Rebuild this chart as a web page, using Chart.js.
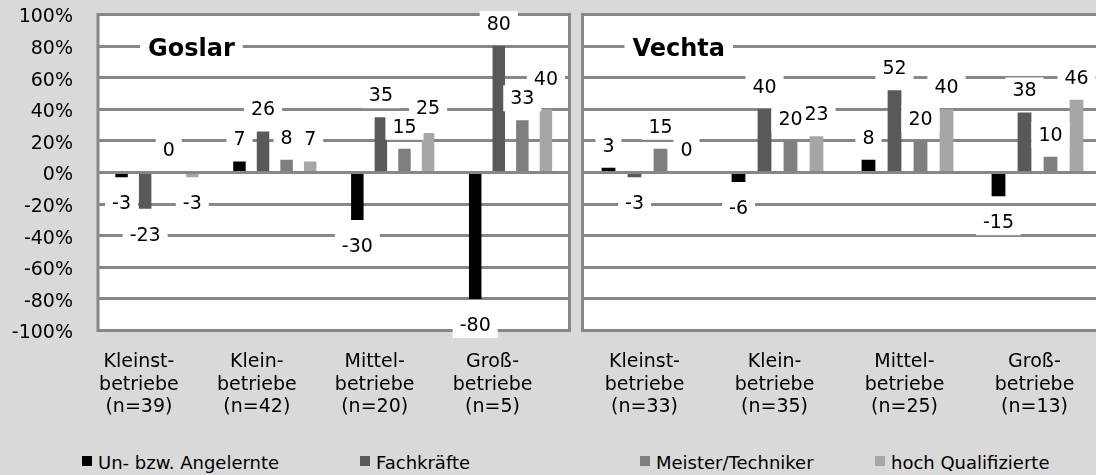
<!DOCTYPE html>
<html>
<head>
<meta charset="utf-8">
<script src="https://cdn.jsdelivr.net/npm/chart.js@4.4.1/dist/chart.umd.min.js"></script>
<style>
    html, body { margin: 0; padding: 0; background: #d9d9d9; }
    #wrap { position: relative; width: 1096px; height: 475px; overflow: hidden; background: #d9d9d9; }
    #goslarChart { position: absolute; left: 0; top: 0; }
    #vechtaChart { position: absolute; left: 576px; top: 0; }
    #legend { position: absolute; left: 0; top: 452px; width: 1096px; height: 22px;
              font: 18px 'DejaVu Sans', sans-serif; line-height: 22px; color: #000; }
    .leg-item { position: absolute; top: 0; white-space: nowrap; padding-left: 16px; }
    .leg-box { position: absolute; left: 0; top: 4px; width: 10px; height: 10px; }
</style>
</head>
<body>
<div id="wrap">
    <canvas id="goslarChart" width="576" height="440"></canvas>
    <canvas id="vechtaChart" width="540" height="440"></canvas>
    <div id="legend"></div>
</div>
<script>
// Daten (Werte in %)
const seriesNames = ["Un- bzw. Angelernte", "Fachkräfte", "Meister/Techniker", "hoch Qualifizierte"];

const goslarLabels = [["Kleinst-", "betriebe", "(n=39)"], ["Klein-", "betriebe", "(n=42)"],
                      ["Mittel-", "betriebe", "(n=20)"], ["Groß-", "betriebe", "(n=5)"]];
const vechtaLabels = [["Kleinst-", "betriebe", "(n=33)"], ["Klein-", "betriebe", "(n=35)"],
                      ["Mittel-", "betriebe", "(n=25)"], ["Groß-", "betriebe", "(n=13)"]];

const goslarUngelernte = [-3, 7, -30, -80];
const goslarFachkraefte = [-23, 26, 35, 80];
const goslarMeister = [0, 8, 15, 33];
const goslarHochQuali = [-3, 7, 25, 40];

const vechtaUngelernte = [3, -6, 8, -15];
const vechtaFachkraefte = [-3, 40, 52, 38];
const vechtaMeister = [15, 20, 20, 10];
const vechtaHochQuali = [0, 23, 40, 46];

const yMin = -100, yMax = 100, yStep = 20;

// Stil
const barColors = ["#000000", "#595959", "#7f7f7f", "#a6a6a6"];
const gridColor = "#878787";
const FONT = "'DejaVu Sans', sans-serif";

// Panel-Hintergrund, Rahmen, Datenbeschriftungen und Panel-Titel
const panelPlugin = {
    id: "panel",
    beforeDraw(chart) {
        const { ctx, chartArea: a } = chart;
        ctx.save();
        ctx.fillStyle = "#ffffff";
        ctx.fillRect(a.left, a.top, a.right - a.left, a.bottom - a.top);
        ctx.restore();
    },
    beforeDatasetsDraw(chart) {
        const { ctx, chartArea: a } = chart;
        ctx.save();
        ctx.strokeStyle = gridColor;
        ctx.lineWidth = 3;
        ctx.strokeRect(a.left, a.top, a.right - a.left, a.bottom - a.top);
        ctx.restore();
    },
    afterDatasetsDraw(chart, args, opts) {
        const { ctx, chartArea: a } = chart;
        ctx.save();
        ctx.font = "19px " + FONT;
        ctx.textAlign = "center";
        ctx.textBaseline = "middle";

        const placed = [];
        chart.data.datasets.forEach((ds, di) => {
            const meta = chart.getDatasetMeta(di);
            meta.data.forEach((bar, i) => {
                const v = ds.data[i];
                const txt = String(v);
                const w = ctx.measureText(txt).width;
                let y = v >= 0 ? bar.y - 22 : bar.y + 26;
                // Überlappung mit bereits gesetzten Beschriftungen vermeiden
                let moved = true;
                while (moved) {
                    moved = false;
                    for (const p of placed) {
                        if (Math.abs(p.x - bar.x) < (p.w + w) / 2 + 1 && Math.abs(p.y - y) < 19) {
                            y = v >= 0 ? p.y - 19 : p.y + 19;
                            moved = true;
                        }
                    }
                }
                placed.push({ x: bar.x, y, w, txt });
            });
        });

        ctx.fillStyle = "#ffffff";
        placed.forEach(p => ctx.fillRect(p.x - p.w / 2 - 7, p.y - 13, p.w + 14, 26));
        ctx.fillStyle = "#000000";
        placed.forEach(p => ctx.fillText(p.txt, p.x, p.y + 1));

        // Titel
        if (opts.title) {
            const yPix = chart.scales.y.getPixelForValue(80);
            ctx.font = "bold 24px " + FONT;
            ctx.textAlign = "left";
            const tw = ctx.measureText(opts.title).width;
            const tx = a.left + 50;
            ctx.fillStyle = "#ffffff";
            ctx.fillRect(tx - 8, yPix - 15, tw + 16, 32);
            ctx.fillStyle = "#000000";
            ctx.fillText(opts.title, tx, yPix + 4);
        }
        ctx.restore();
    }
};

function buildDatasets(values) {
    return values.map((data, i) => ({
        label: seriesNames[i],
        data: data,
        backgroundColor: barColors[i],
        borderWidth: 0,
        categoryPercentage: 0.8,
        barPercentage: 0.53
    }));
}

function createPanel(canvasId, title, labels, values, showYAxis, padding, labelOffset) {
    return new Chart(document.getElementById(canvasId), {
        type: "bar",
        data: { labels: labels, datasets: buildDatasets(values) },
        plugins: [panelPlugin],
        options: {
            responsive: false,
            animation: false,
            layout: { padding: padding },
            plugins: {
                legend: { display: false },
                tooltip: { enabled: false },
                panel: { title: title }
            },
            scales: {
                x: {
                    grid: { display: false },
                    border: { display: false },
                    ticks: {
                        color: "#000",
                        font: { family: FONT, size: 19, lineHeight: 1.2 },
                        padding: 12,
                        maxRotation: 0,
                        autoSkip: false,
                        labelOffset: labelOffset
                    },
                    afterFit: s => { s.height = 109.5; s.paddingLeft = 0; s.paddingRight = 0; }
                },
                y: {
                    min: yMin,
                    max: yMax,
                    grid: { color: gridColor, lineWidth: 3, drawTicks: false },
                    border: { display: false },
                    ticks: {
                        display: showYAxis,
                        stepSize: yStep,
                        color: "#000",
                        font: { family: FONT, size: 19 },
                        padding: 25,
                        labelOffset: 3,
                        callback: v => v + "%"
                    },
                    afterFit: s => {
                        s.width = showYAxis ? 98 : 0;
                        s.paddingTop = 0;
                        s.paddingBottom = 0;
                    }
                }
            }
        }
    });
}

createPanel("goslarChart", "Goslar", goslarLabels,
    [goslarUngelernte, goslarFachkraefte, goslarMeister, goslarHochQuali],
    true, { top: 14.5, right: 6.5, left: 0, bottom: 0 }, -18);

createPanel("vechtaChart", "Vechta", vechtaLabels,
    [vechtaUngelernte, vechtaFachkraefte, vechtaMeister, vechtaHochQuali],
    false, { top: 14.5, right: 13.5, left: 6.5, bottom: 0 }, -3);

// Legende
const legendLeft = [82, 360, 640, 875];
const legendEl = document.getElementById("legend");
seriesNames.forEach((name, i) => {
    const item = document.createElement("span");
    item.className = "leg-item";
    item.style.left = legendLeft[i] + "px";
    const box = document.createElement("span");
    box.className = "leg-box";
    box.style.background = barColors[i];
    item.appendChild(box);
    item.appendChild(document.createTextNode(name));
    legendEl.appendChild(item);
});
</script>
</body>
</html>
